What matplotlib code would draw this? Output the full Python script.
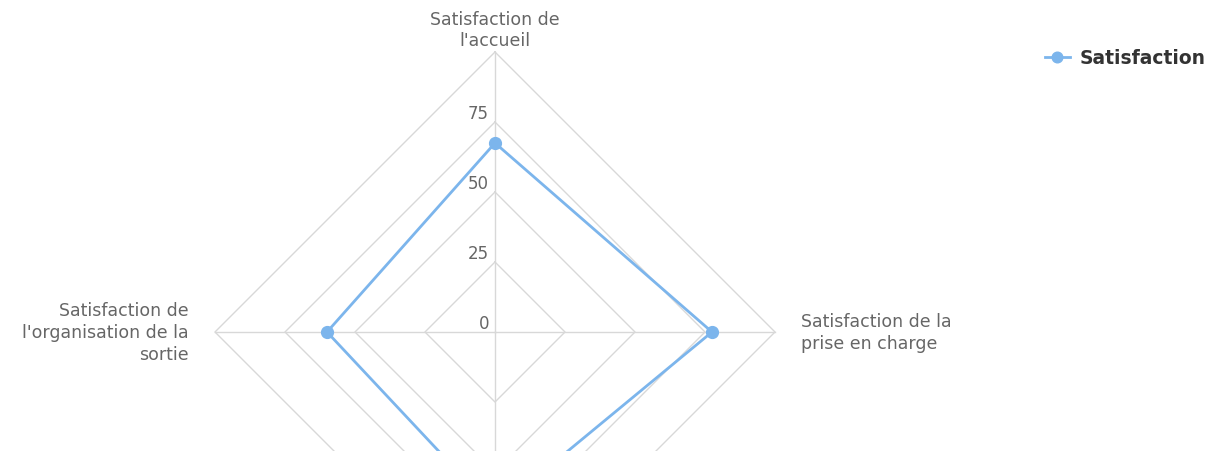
import matplotlib.pyplot as plt
import numpy as np

# Chart data
categories = ["Satisfaction de\nl'accueil",
              "Satisfaction de la\nprise en charge",
              "Satisfaction des\nsoins",
              "Satisfaction de\nl'organisation de la\nsortie"]
values = [67.5, 77.5, 64, 60]
series_name = "Satisfaction"
grid_levels = [25, 50, 75, 100]
tick_labels = ["0", "25", "50", "75"]

line_color = "#7cb5ec"
grid_color = "#d8d8d8"
text_color = "#666666"

W, H = 1216, 452
fig = plt.figure(figsize=(W / 100, H / 100), dpi=100)
ax = fig.add_axes([0, 0, 1, 1])

# center at pixel (495, 333), 2.8 px per unit
scale = 2.8
cx, cy = 495, 333
ax.set_xlim(-cx / scale, (W - cx) / scale)
ax.set_ylim(-(H - cy) / scale, cy / scale)
ax.axis("off")

# angles: top, right, bottom, left (clockwise from top)
n = len(categories)
angles = np.pi / 2 - np.arange(n) * 2 * np.pi / n
dx, dy = np.cos(angles), np.sin(angles)

# grid polygons
for lev in grid_levels:
    gx = np.append(dx * lev, dx[0] * lev)
    gy = np.append(dy * lev, dy[0] * lev)
    ax.plot(gx, gy, color=grid_color, lw=1, zorder=1)
# spokes
for i in range(n):
    ax.plot([0, dx[i] * 100], [0, dy[i] * 100], color=grid_color, lw=1, zorder=1)

# tick labels along the top spoke
for lev, lab in zip([0] + grid_levels[:-1], tick_labels):
    ax.text(-2.1, lev + 3.3, lab, ha="right", va="center", fontsize=12,
            color=text_color)

# category labels (the bottom one falls outside the picture)
fs = 12.5
ls = 1.25
ax.text(0, 101, categories[0], ha="center", va="bottom", fontsize=fs,
        color=text_color, linespacing=ls)
ax.text(109.3, 0, categories[1], ha="left", va="center", fontsize=fs,
        color=text_color, linespacing=ls)
ax.text(-109.3, 0, categories[3], ha="right", va="center", fontsize=fs,
        color=text_color, linespacing=ls, multialignment="right")

# series
vals = np.array(values)
px = np.append(dx * vals, dx[0] * vals[0])
py = np.append(dy * vals, dy[0] * vals[0])
ax.plot(px, py, color=line_color, lw=2, marker="o", markersize=8.5,
        markevery=list(range(n)), zorder=3, label=series_name, clip_on=False)

leg = ax.legend(loc="center left", bbox_to_anchor=(1045 / W, 1 - 59 / H),
                bbox_transform=fig.transFigure, frameon=False,
                handlelength=1.33, handletextpad=0.5, borderaxespad=0,
                borderpad=0, markerscale=0.9,
                prop={"weight": "bold", "size": 13.5})
for t in leg.get_texts():
    t.set_color("#333333")

fig.savefig("out.png", dpi=100)
